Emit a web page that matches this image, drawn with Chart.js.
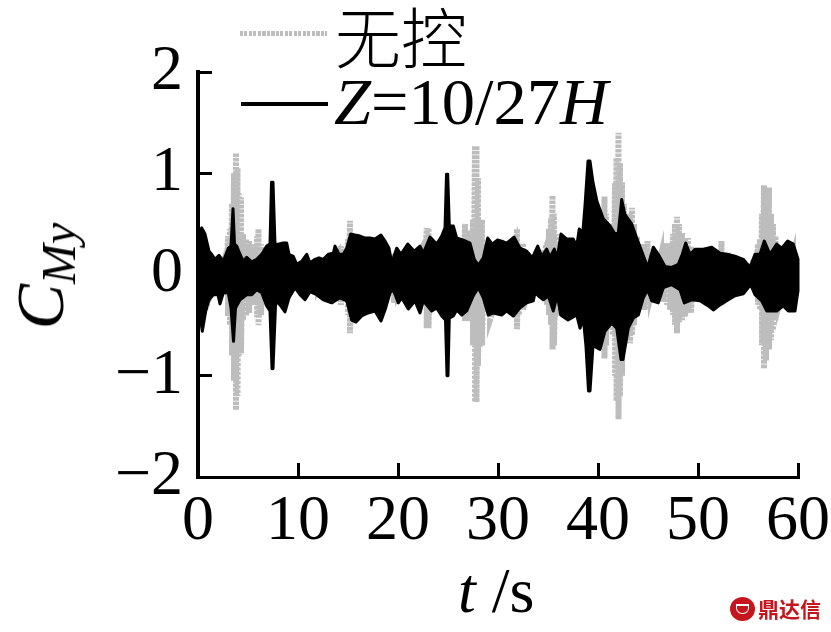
<!DOCTYPE html>
<html>
<head>
<meta charset="utf-8">
<script src="https://cdn.jsdelivr.net/npm/chart.js@4/dist/chart.umd.js"></script>
<style>
body { margin: 0; background: #fff; }
#wrap { position: relative; width: 831px; height: 632px; overflow: hidden; }
canvas { position: absolute; left: 0; top: 0; }
.lbl { position: absolute; white-space: nowrap; color: #000; font-family: "Liberation Serif", serif; line-height: 1; }
.lbl i { font-style: italic; }
#legendA { left: 335px; top: 1px; font-family: "Noto Sans CJK SC", sans-serif; font-size: 66px; font-weight: 300; }
#legendB { left: 334px; top: 69px; font-size: 66.5px; }
#sampleA { position: absolute; left: 240px; top: 31px; width: 87px; height: 5px; background: repeating-linear-gradient(90deg, #bdbdbd 0 3px, #fff 3px 4.5px); }
#sampleB { position: absolute; left: 241px; top: 102px; width: 87px; height: 4px; background: #000; }
#xTitle { left: 458px; top: 559px; font-size: 64px; }
#yTitle { left: 40px; top: 276px; font-size: 68px; transform: translate(-50%, -50%) rotate(-90deg); }
#yTitle sub { font-size: 48px; font-style: italic; vertical-align: -12px; line-height: 0; }
#mark { left: 758px; top: 598px; font-family: "Noto Sans CJK SC", sans-serif; font-size: 21px; font-weight: 700; color: #c4161c; }
#logo { position: absolute; left: 730px; top: 597px; width: 25px; height: 24px; border-radius: 50%; background: #c4161c; }
#logo div { position: absolute; left: 6px; top: 7px; width: 11px; height: 7px; border: 1.5px solid #fff; border-top-width: 2.5px; border-radius: 0 0 6px 6px; }
</style>
</head>
<body>
<div id="wrap">
  <canvas id="chart" width="831" height="632"></canvas>
  <div id="sampleA"></div>
  <div id="legendA" class="lbl">无控</div>
  <div id="sampleB"></div>
  <div id="legendB" class="lbl"><i>Z</i>=10/27<i>H</i></div>
  <div id="xTitle" class="lbl"><i>t</i> /s</div>
  <div id="yTitle" class="lbl"><i>C</i><sub>My</sub></div>
  <div id="logo"><div></div></div>
  <div id="mark" class="lbl">鼎达信</div>
</div>
<script>
// tick labels
const xTickLabels = ['0', '10', '20', '30', '40', '50', '60'];
const yTickLabels = ['−2', '−1', '0', '1', '2'];

// no control case, read as peak pairs
const grayTime = [0.5, 2.8, 3.0, 3.2, 3.4, 3.6, 3.8, 3.95, 4.1, 4.3, 4.5, 4.8, 5.1, 5.4, 5.7, 5.9, 6.05, 6.3, 6.6, 12, 14.0, 14.3, 14.7, 15.0, 15.2, 15.5, 19.3, 19.6, 20, 22.6, 22.87, 23.05, 23.3, 26.5, 26.7, 26.9, 27.2, 27.5, 27.7, 27.85, 28.0, 28.2, 28.4, 28.6, 29.2, 31.7, 31.9, 32.1, 32.5, 33, 34.9, 35.1, 35.3, 35.45, 35.6, 35.85, 36.2, 40.4, 40.65, 40.8, 41.2, 41.5, 41.7, 41.85, 42.05, 42.2, 42.4, 42.6, 42.9, 43.2, 43.4, 43.6, 43.9, 44.2, 44.6, 44.95, 45.3, 46.3, 46.5, 46.9, 47.2, 47.5, 47.7, 47.9, 48.1, 48.4, 48.7, 49.0, 49.3, 49.6, 52.1, 52.35, 52.6, 53, 55.7, 56.0, 56.2, 56.4, 56.6, 56.8, 57.1, 57.3, 57.5, 57.75, 58.1, 59.5];
const grayUpper = [0.3, 0.2, 0.38, 0.45, 0.7, 1.0, 1.2, 1.05, 0.8, 0.76, 0.4, 0.35, 0.33, 0.25, 0.3, 0.38, 0.45, 0.3, 0.2, 0.14, 0.2, 0.28, 0.25, 0.35, 0.53, 0.3, 0.15, 0.2, 0.2, 0.3, 0.46, 0.46, 0.3, 0.3, 0.5, 0.44, 0.4, 0.54, 1.27, 1.27, 0.95, 0.54, 0.54, 0.3, 0.3, 0.3, 0.45, 0.3, 0.31, 0.2, 0.3, 0.45, 0.56, 0.78, 0.6, 0.4, 0.3, 0.6, 0.77, 0.6, 0.4, 0.5, 0.9, 1.15, 1.4, 1.1, 0.91, 0.7, 0.6, 0.6, 0.66, 0.5, 0.38, 0.3, 0.3, 0.33, 0.2, 0.2, 0.28, 0.31, 0.3, 0.4, 0.5, 0.57, 0.5, 0.41, 0.35, 0.36, 0.28, 0.2, 0.2, 0.33, 0.2, 0.22, 0.15, 0.3, 0.35, 0.6, 0.88, 0.75, 0.86, 0.6, 0.5, 0.38, 0.25, 0.2];
const grayLower = [-0.4, -0.2, -0.41, -0.5, -0.8, -1.05, -1.34, -1.2, -0.8, -0.78, -0.45, -0.41, -0.38, -0.3, -0.3, -0.42, -0.5, -0.4, -0.2, -0.15, -0.2, -0.3, -0.25, -0.4, -0.58, -0.3, -0.15, -0.28, -0.2, -0.3, -0.53, -0.53, -0.3, -0.3, -0.46, -0.46, -0.4, -0.7, -1.26, -1.26, -0.9, -0.71, -0.7, -0.35, -0.45, -0.4, -0.54, -0.4, -0.35, -0.2, -0.3, -0.4, -0.5, -0.74, -0.7, -0.4, -0.3, -0.7, -0.83, -0.7, -0.5, -0.6, -1.0, -1.25, -1.43, -1.2, -1.0, -0.7, -0.65, -0.68, -0.6, -0.5, -0.38, -0.35, -0.35, -0.35, -0.2, -0.2, -0.27, -0.3, -0.35, -0.4, -0.5, -0.58, -0.47, -0.45, -0.42, -0.38, -0.38, -0.2, -0.25, -0.3, -0.25, -0.2, -0.15, -0.3, -0.35, -0.7, -0.93, -0.85, -0.74, -0.65, -0.55, -0.45, -0.3, -0.2];

// Z=10/27H case, upper and lower edge of the trace
const blackTopTime = [0, 0.37, 0.7, 1.1, 1.37, 1.7, 2.1, 2.53, 3.03, 3.3, 3.5, 3.65, 3.87, 4.2, 4.53, 4.87, 5.37, 5.87, 6.37, 6.87, 7.2, 7.35, 7.5, 7.7, 8.03, 8.43, 8.87, 9.1, 9.53, 9.87, 10.37, 10.87, 11.2, 11.7, 12.1, 12.53, 13.03, 13.53, 13.7, 14.1, 14.53, 14.87, 15.27, 15.7, 16.2, 16.7, 17.2, 17.7, 18.3, 18.7, 19.1, 19.37, 19.87, 20.3, 20.97, 21.63, 22.2, 22.53, 23.2, 23.87, 24.37, 24.7, 24.85, 24.97, 25.13, 25.53, 25.87, 26.53, 27.2, 27.63, 28.03, 28.53, 28.97, 29.43, 29.93, 30.37, 30.87, 31.6, 32.2, 32.87, 33.43, 33.97, 34.37, 34.87, 35.2, 35.63, 35.93, 36.3, 36.87, 37.53, 37.87, 38.13, 38.47, 38.7, 39.0, 39.2, 39.5, 39.9, 40.53, 41.2, 41.7, 42.03, 42.37, 42.7, 43.37, 43.87, 44.37, 44.97, 45.53, 46.03, 46.7, 47.37, 48.03, 48.43, 48.77, 49.2, 49.7, 50.53, 51.37, 52.2, 52.87, 53.7, 54.53, 55.2, 55.7, 56.2, 56.63, 57.2, 57.87, 58.37, 58.97, 59.53, 60];
const blackTop = [0.42, 0.46, 0.4, 0.23, 0.2, 0.15, 0.19, 0.13, 0.26, 0.28, 0.65, 0.3, 0.28, 0.2, 0.13, 0.17, 0.125, 0.15, 0.2, 0.28, 0.3, 0.91, 0.91, 0.3, 0.3, 0.31, 0.31, 0.2, 0.18, 0.1, 0.13, 0.2, 0.115, 0.15, 0.165, 0.15, 0.2, 0.21, 0.28, 0.2, 0.2, 0.26, 0.4, 0.39, 0.38, 0.36, 0.36, 0.35, 0.39, 0.33, 0.26, 0.115, 0.26, 0.2, 0.3, 0.23, 0.28, 0.21, 0.37, 0.3, 0.38, 0.46, 0.99, 0.99, 0.48, 0.48, 0.36, 0.34, 0.31, 0.15, 0.09, 0.165, 0.36, 0.3, 0.34, 0.33, 0.31, 0.37, 0.26, 0.23, 0.165, 0.28, 0.18, 0.25, 0.17, 0.25, 0.165, 0.4, 0.35, 0.35, 0.28, 0.45, 0.4, 0.68, 1.12, 1.12, 0.91, 0.72, 0.55, 0.48, 0.4, 0.41, 0.74, 0.59, 0.5, 0.36, 0.23, 0.07, 0.27, 0.2, 0.08, 0.07, 0.1, 0.2, 0.31, 0.2, 0.25, 0.25, 0.27, 0.21, 0.2, 0.18, 0.15, 0.07, 0.2, 0.2, 0.33, 0.2, 0.3, 0.26, 0.33, 0.3, 0.15];
const blackBottomTime = [0, 0.2, 0.43, 0.77, 1.1, 1.53, 2, 2.2, 2.53, 3.03, 3.3, 3.55, 3.75, 4.2, 4.87, 5.37, 5.87, 6.37, 6.87, 7.2, 7.4, 7.5, 7.77, 8.2, 8.7, 9.1, 9.7, 10.2, 10.7, 11.2, 11.87, 12.53, 13.37, 14.2, 14.87, 15.37, 15.8, 16.37, 17, 17.7, 18.3, 18.77, 19.2, 19.53, 20.03, 20.37, 21.03, 21.7, 22.2, 22.53, 23.37, 23.87, 24.37, 24.75, 24.9, 25.0, 25.13, 25.53, 25.87, 26.37, 26.87, 27.53, 28.03, 28.53, 29.03, 29.53, 30.37, 30.87, 31.53, 32.2, 32.87, 33.53, 33.7, 34.03, 34.53, 35.03, 35.53, 35.93, 36.27, 37, 37.87, 38.2, 38.53, 38.8, 39.05, 39.2, 39.5, 40.2, 40.7, 41.37, 41.87, 42.3, 42.5, 43.03, 43.53, 44.03, 44.53, 44.97, 45.37, 46.03, 46.53, 47.37, 48.2, 48.63, 49.37, 50.2, 51.03, 51.53, 52.2, 52.87, 53.7, 54.53, 55.27, 55.7, 56.37, 56.87, 57.37, 57.87, 58.53, 59.03, 59.7, 60];
const blackBottom = [-0.2, -0.4, -0.56, -0.36, -0.25, -0.2, -0.2, -0.29, -0.18, -0.18, -0.33, -0.66, -0.33, -0.25, -0.2, -0.2, -0.15, -0.18, -0.31, -0.36, -0.93, -0.93, -0.26, -0.3, -0.37, -0.23, -0.13, -0.2, -0.25, -0.17, -0.2, -0.25, -0.28, -0.23, -0.26, -0.45, -0.47, -0.41, -0.38, -0.36, -0.46, -0.33, -0.18, -0.15, -0.28, -0.23, -0.34, -0.26, -0.38, -0.26, -0.36, -0.33, -0.41, -0.45, -1.0, -1.0, -0.43, -0.41, -0.35, -0.4, -0.36, -0.21, -0.13, -0.23, -0.4, -0.38, -0.4, -0.36, -0.41, -0.33, -0.28, -0.26, -0.18, -0.21, -0.25, -0.21, -0.36, -0.2, -0.4, -0.45, -0.4, -0.53, -0.43, -0.71, -1.15, -1.15, -0.7, -0.74, -0.56, -0.48, -0.53, -0.84, -0.84, -0.53, -0.43, -0.4, -0.23, -0.15, -0.26, -0.28, -0.13, -0.1, -0.15, -0.28, -0.25, -0.26, -0.31, -0.35, -0.3, -0.26, -0.21, -0.19, -0.1, -0.2, -0.26, -0.36, -0.36, -0.36, -0.31, -0.36, -0.36, -0.16];

// zigzag between the two peaks of each sample
const grayPoints = [];
grayTime.forEach((t, i) => {
    grayPoints.push({ x: t, y: grayUpper[i] });
    grayPoints.push({ x: t, y: grayLower[i] });
});

// closed outline, along the top and back along the bottom
const blackPoints = blackTopTime.map((t, i) => ({ x: t, y: blackTop[i] }));
for (let i = blackBottomTime.length - 1; i >= 0; i--) {
    blackPoints.push({ x: blackBottomTime[i], y: blackBottom[i] });
}

const tickFont = { family: '"Liberation Serif", serif', size: 64 };

new Chart(document.getElementById('chart').getContext('2d'), {
    type: 'scatter',
    data: {
        datasets: [{
            label: '无控',
            data: grayPoints,
            showLine: true,
            pointRadius: 0,
            borderColor: '#bdbdbd',
            borderWidth: 6,
            borderDash: [3, 1.5],
            borderCapStyle: 'butt',
            clip: false,
            order: 2
        }, {
            label: 'Z=10/27H',
            data: blackPoints,
            showLine: true,
            pointRadius: 0,
            borderColor: '#000',
            backgroundColor: '#000',
            borderWidth: 3,
            borderJoinStyle: 'round',
            fill: 'shape',
            clip: false,
            order: 1
        }]
    },
    options: {
        responsive: false,
        animation: false,
        layout: { autoPadding: false, padding: { top: 72, right: 33, left: 0, bottom: 0 } },
        plugins: { legend: { display: false }, tooltip: { enabled: false } },
        scales: {
            x: {
                type: 'linear',
                min: 0,
                max: 60,
                afterFit: scale => {
                    scale.height = 155;
                    scale.paddingLeft = 0;
                    scale.paddingRight = 0;
                },
                border: { color: '#000', width: 3 },
                grid: { drawOnChartArea: false, color: '#000', lineWidth: 3, tickLength: -14 },
                ticks: {
                    stepSize: 10,
                    color: '#000',
                    font: tickFont,
                    padding: 21,
                    maxRotation: 0,
                    callback: (v, i) => xTickLabels[i]
                }
            },
            y: {
                type: 'linear',
                min: -2,
                max: 2,
                afterFit: scale => { scale.width = 198; },
                border: { color: '#000', width: 4 },
                grid: { drawOnChartArea: false, color: '#000', lineWidth: 3, tickLength: -14 },
                ticks: {
                    stepSize: 1,
                    color: '#000',
                    font: tickFont,
                    padding: 29,
                    callback: (v, i) => yTickLabels[i]
                }
            }
        }
    }
});
</script>
</body>
</html>
